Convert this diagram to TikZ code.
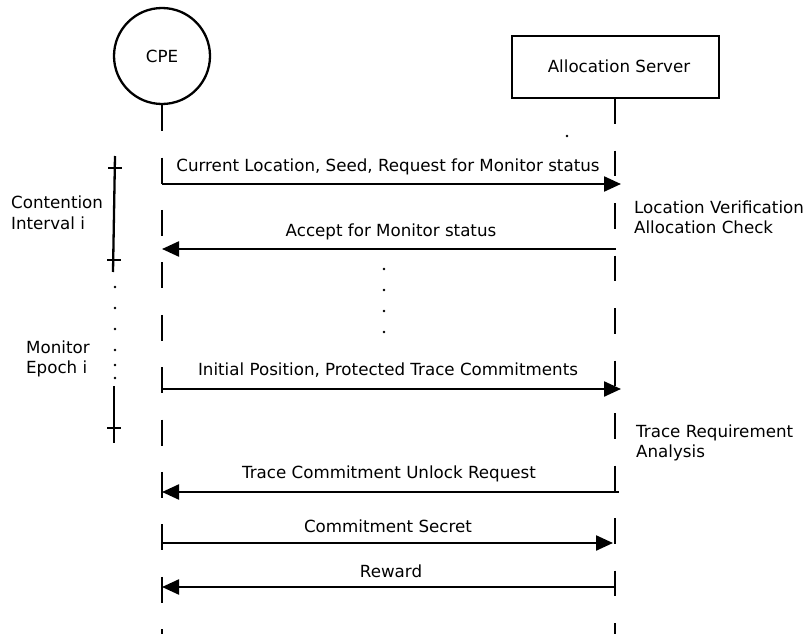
\documentclass[tikz,border=0pt]{standalone}
\usepackage{fontspec}
\setmainfont{DejaVu Sans}
\usetikzlibrary{arrows.meta}
\begin{document}
\begin{tikzpicture}[x=1pt,y=-1pt,line width=2.3pt,
  lbl/.style={font=\fontsize{16.7}{20}\selectfont,inner sep=0pt},
  actor/.style={draw,line width=2.3pt,font=\fontsize{16.7}{20}\selectfont,inner sep=0pt},
  msg/.style={line width=2.3pt,-{Triangle[length=17pt,width=15pt]}},
  cpeline/.style={line width=2.3pt,dash pattern=on 26pt off 26.4pt},
  srvline/.style={line width=2.3pt,dash pattern=on 25.5pt off 27pt},
  dotmark/.style={circle,fill,inner sep=0pt,minimum size=2.6pt},
  bar/.style={line width=2.3pt},
  tick/.style={line width=2.3pt}]
\useasboundingbox (0,0) rectangle (803,634);

% participants
\node[actor,circle,minimum size=96pt] (cpe) at (162,56) {CPE};
\node[actor,rectangle,minimum width=207pt,minimum height=62pt] (srv) at (615.5,67) {};
\node[lbl,anchor=base] (srvname) at (619,73) {Allocation Server};

% lifelines
\coordinate (cpeEnd) at (162,634);
\coordinate (srvTop) at (615,98);
\coordinate (srvEnd) at (615,634);
\draw[cpeline] (cpe.south) -- (cpeEnd);
\draw[srvline] (srvTop) -- (srvEnd);
\node[dotmark] (sdot) at (567,136) {};

% message 1
\coordinate (c1) at (162,184);
\coordinate (s1) at (621,184);
\draw[msg] (c1) -- (s1);
\node[lbl,anchor=base] (m1) at (388,171) {Current Location, Seed, Request for Monitor status};

% message 2
\coordinate (s2) at (616,249);
\coordinate (c2) at (162,249);
\draw[msg] (s2) -- (c2);
\node[lbl,anchor=base] (m2) at (391,236) {Accept for Monitor status};

% continuation dots
\node[dotmark] (vd1) at (384,269) {};
\node[dotmark] (vd2) at (384,290) {};
\node[dotmark] (vd3) at (384,311) {};
\node[dotmark] (vd4) at (384,332) {};

% message 3
\coordinate (c3) at (162,389);
\coordinate (s3) at (621,389);
\draw[msg] (c3) -- (s3);
\node[lbl,anchor=base] (m3) at (388,375) {Initial Position, Protected Trace Commitments};

% message 4
\coordinate (s4) at (619,492);
\coordinate (c4) at (162,492);
\draw[msg] (s4) -- (c4);
\node[lbl,anchor=base] (m4) at (389,478) {Trace Commitment Unlock Request};

% message 5
\coordinate (c5) at (162,543);
\coordinate (s5) at (613,543);
\draw[msg] (c5) -- (s5);
\node[lbl,anchor=base] (m5) at (388,532) {Commitment Secret};

% message 6
\coordinate (s6) at (616,587);
\coordinate (c6) at (162,587);
\draw[msg] (s6) -- (c6);
\node[lbl,anchor=base] (m6) at (391,577) {Reward};

% server-side processing notes
\node[lbl,anchor=base west] (lv) at (633,213) {Location Verification};
\node[lbl,anchor=base west] (ac) at (633,233) {Allocation Check};
\node[lbl,anchor=base west] (tr) at (635,437) {Trace Requirement};
\node[lbl,anchor=base west] (an) at (635,457) {Analysis};

% contention interval
\coordinate (ciTop) at (115,156);
\coordinate (ciBot) at (113,272);
\coordinate (ciT1a) at (108,168);
\coordinate (ciT1b) at (122,168);
\coordinate (ciT2a) at (107,260);
\coordinate (ciT2b) at (121,260);
\draw[bar] (ciTop) -- (ciBot);
\draw[tick] (ciT1a) -- (ciT1b);
\draw[tick] (ciT2a) -- (ciT2b);
\node[lbl,anchor=base west] (ci1) at (10,208) {Contention};
\node[lbl,anchor=base west] (ci2) at (10,229) {Interval i};

% monitor epoch
\node[dotmark] (ld1) at (115,287) {};
\node[dotmark] (ld2) at (115,308) {};
\node[dotmark] (ld3) at (115,329) {};
\node[dotmark] (ld4) at (115,350) {};
\node[dotmark] (ld5) at (115,365) {};
\node[dotmark] (ld6) at (115,378) {};
\coordinate (meTop) at (114,386);
\coordinate (meBot) at (114,443);
\coordinate (meTa) at (107,428);
\coordinate (meTb) at (121,428);
\draw[bar] (meTop) -- (meBot);
\draw[tick] (meTa) -- (meTb);
\node[lbl,anchor=base west] (me1) at (25,353) {Monitor};
\node[lbl,anchor=base west] (me2) at (25,373) {Epoch i};
\end{tikzpicture}
\end{document}
